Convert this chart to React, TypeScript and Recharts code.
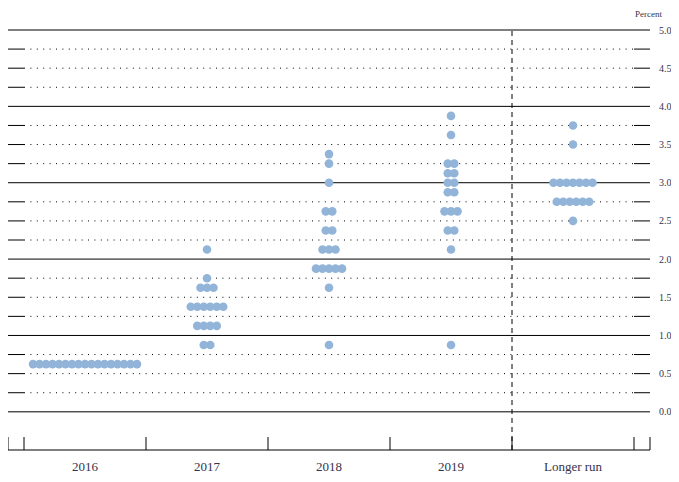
import React from 'react';
import { ScatterChart, Scatter, XAxis, YAxis, ReferenceLine } from 'recharts';

const categories = ['2016', '2017', '2018', '2019', 'Longer run'];

// [midpoint of target range, number of participants]
const dots2016 = [[0.625, 17]];
const dots2017 = [[2.125, 1], [1.75, 1], [1.625, 3], [1.375, 6], [1.125, 4], [0.875, 2]];
const dots2018 = [[3.375, 1], [3.25, 1], [3.0, 1], [2.625, 2], [2.375, 2], [2.125, 3], [1.875, 5], [1.625, 1], [0.875, 1]];
const dots2019 = [[3.875, 1], [3.625, 1], [3.25, 2], [3.125, 2], [3.0, 2], [2.875, 2], [2.625, 3], [2.375, 2], [2.125, 1], [0.875, 1]];
const dotsLongerRun = [[3.75, 1], [3.5, 1], [3.0, 7], [2.75, 6], [2.5, 1]];

const yTicks = [0, 0.5, 1, 1.5, 2, 2.5, 3, 3.5, 4, 4.5, 5];
const gridLevels = [0, 0.25, 0.5, 0.75, 1, 1.25, 1.5, 1.75, 2, 2.25, 2.5, 2.75, 3, 3.25, 3.5, 3.75, 4, 4.25, 4.5, 4.75, 5];
const categoryEdges = [-0.5, 0.5, 1.5, 2.5, 3.5, 4.5];

const X_MIN = -0.5 - 16 / 122;
const X_MAX = 4.5 + 16 / 122;
const DOT_STEP = 6.5 / 122; // horizontal spacing of stacked dots, in category units
const TICK_LEN = 0.17;

const DOT_COLOR = '#93b4d9';
const TEXT_COLOR = '#33334d';
const FONT = '"Liberation Serif", "DejaVu Serif", serif';

// spread each row of dots around its category centre
const scatterData = [dots2016, dots2017, dots2018, dots2019, dotsLongerRun].flatMap((rows, ci) =>
  rows.flatMap(([rate, count]) =>
    Array.from({ length: count }, (_, j) => ({
      x: ci + (j - (count - 1) / 2) * DOT_STEP,
      y: rate
    }))
  )
);

const Dot = (props: { cx?: number; cy?: number }) => (
  <circle cx={props.cx} cy={props.cy} r={4.3} fill={DOT_COLOR} />
);

export default function App() {
  return (
    <div style={{ margin: -8, width: 679, height: 482, overflow: 'hidden' }}>
      <ScatterChart width={679} height={482} margin={{ top: 30, right: 0, bottom: 0, left: 8 }}>
        <XAxis
          type="number"
          dataKey="x"
          domain={[X_MIN, X_MAX]}
          ticks={[0, 1, 2, 3, 4]}
          interval={0}
          tickFormatter={(i: number) => categories[i]}
          height={32}
          tickLine={false}
          tickSize={0}
          tickMargin={12}
          axisLine={{ stroke: '#000' }}
          tick={{ fill: TEXT_COLOR, fontSize: 13, fontFamily: FONT }}
          allowDataOverflow
        />
        <YAxis
          type="number"
          dataKey="y"
          orientation="right"
          domain={[-0.5, 5]}
          ticks={yTicks}
          interval={0}
          tickFormatter={(v: number) => v.toFixed(1)}
          width={29}
          axisLine={false}
          tickLine={false}
          tickSize={0}
          tickMargin={9}
          tick={{ fill: TEXT_COLOR, fontSize: 10, fontFamily: FONT }}
          label={{ value: 'Percent', position: 'top', offset: 13, dx: -16, fill: TEXT_COLOR, fontSize: 9, fontFamily: FONT }}
          allowDataOverflow
        />

        {/* whole numbers: solid across; others: dotted with short solid ends */}
        {gridLevels.map((v) =>
          Number.isInteger(v) ? (
            <ReferenceLine key={`g${v}`} segment={[{ x: X_MIN, y: v }, { x: X_MAX, y: v }]} stroke="#000" strokeWidth={1} />
          ) : (
            <React.Fragment key={`g${v}`}>
              <ReferenceLine segment={[{ x: X_MIN, y: v }, { x: -0.5, y: v }]} stroke="#000" strokeWidth={1} />
              <ReferenceLine segment={[{ x: -0.5, y: v }, { x: 4.5, y: v }]} stroke="#000" strokeWidth={1} strokeDasharray="1 5.4" />
              <ReferenceLine segment={[{ x: 4.5, y: v }, { x: X_MAX, y: v }]} stroke="#000" strokeWidth={1} />
            </React.Fragment>
          )
        )}

        {/* category boundary ticks on the bottom axis */}
        {[X_MIN, ...categoryEdges, X_MAX].map((e, i) => (
          <ReferenceLine key={`t${i}`} segment={[{ x: e, y: -0.5 }, { x: e, y: -0.5 + TICK_LEN }]} stroke="#000" strokeWidth={1} />
        ))}

        <ReferenceLine x={3.5} stroke="#000" strokeWidth={1} strokeDasharray="5 4" />

        <Scatter data={scatterData} shape={<Dot />} isAnimationActive={false} />
      </ScatterChart>
    </div>
  );
}
